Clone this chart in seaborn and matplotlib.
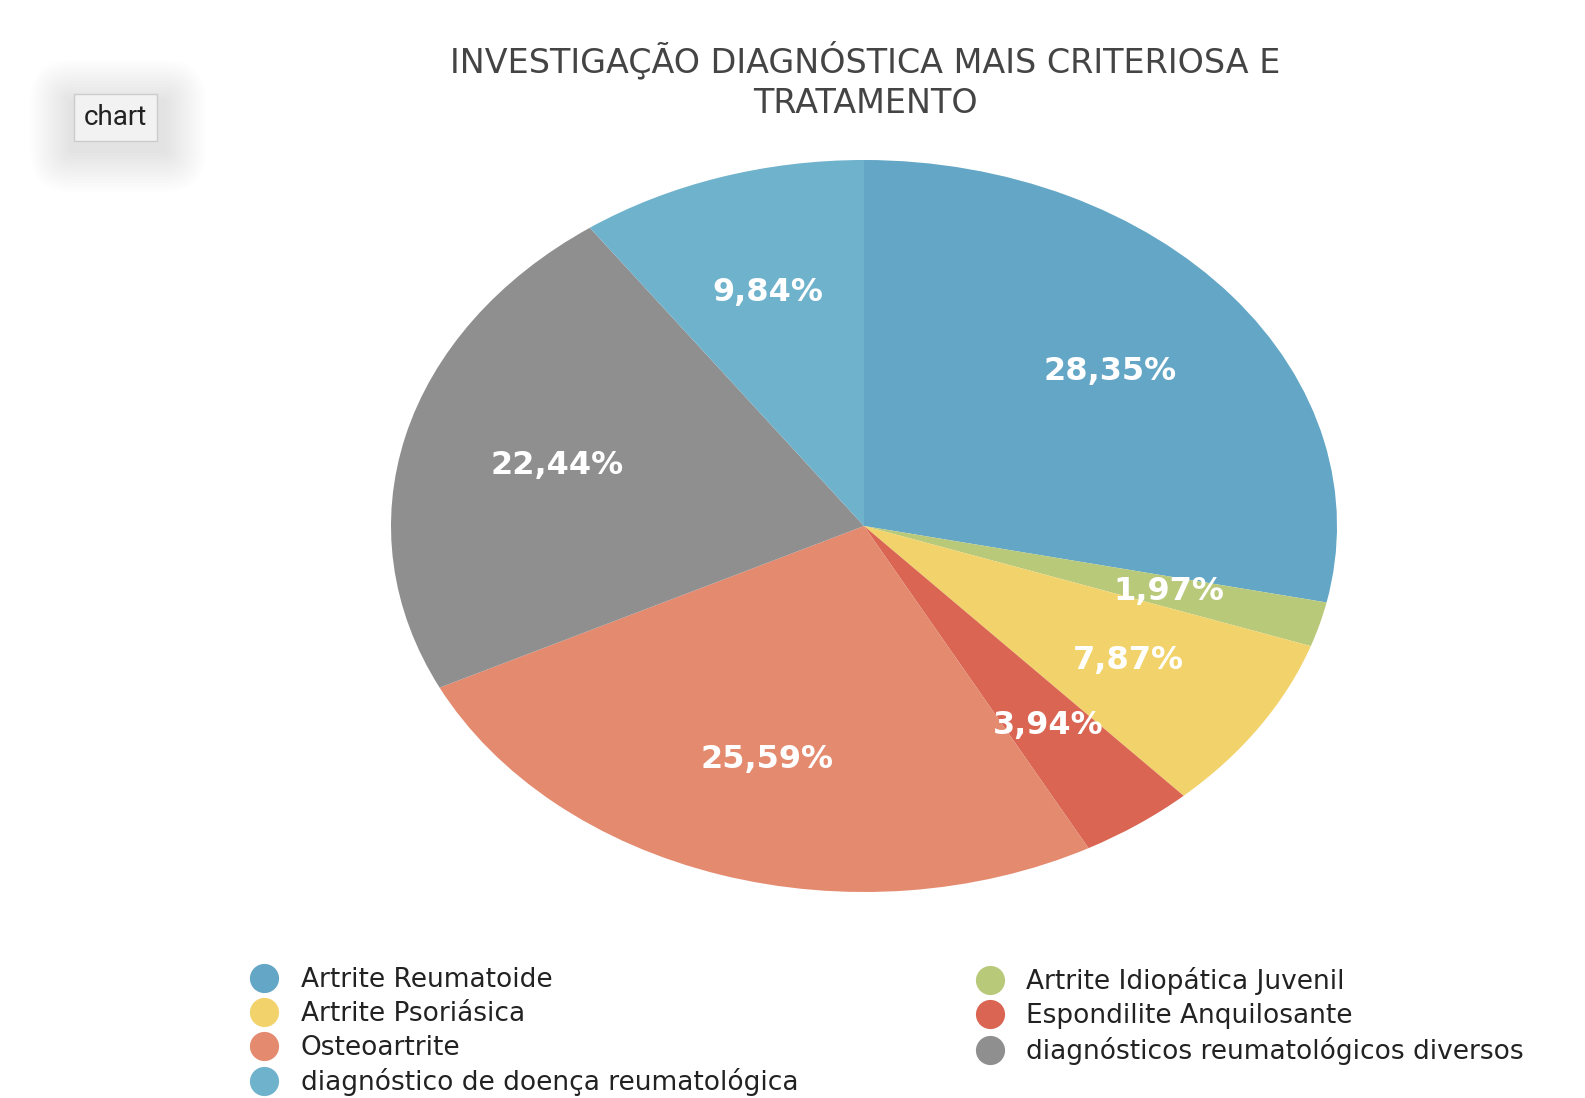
import seaborn as sns
import matplotlib.pyplot as plt
from matplotlib.lines import Line2D
from matplotlib.patches import FancyBboxPatch

# dados do gráfico
categorias = ["Artrite Reumatoide", "Artrite Idiopática Juvenil", "Artrite Psoriásica",
              "Espondilite Anquilosante", "Osteoartrite",
              "diagnósticos reumatológicos diversos", "diagnóstico de doença reumatológica"]
percentuais = [28.35, 1.97, 7.87, 3.94, 25.59, 22.44, 9.84]
cores = ["#63a6c6", "#b9c97a", "#f2d36b", "#d96552", "#e38a6f", "#8f8f8f", "#6fb2cc"]

sns.set_theme(style="white")
plt.rcParams['font.family'] = ['DejaVu Sans']
paleta = sns.color_palette(cores)

fig = plt.figure(figsize=(15.85, 10.98), dpi=100)
# eixo esticado para dar a forma de elipse
ax = fig.add_axes([391 / 1585, (1098 - 526 - 366) / 1098, 946 / 1585, 732 / 1098])
ax.pie(percentuais, colors=paleta, startangle=90, counterclock=False,
       autopct=lambda p: f"{p:.2f}%".replace(".", ","), pctdistance=0.67,
       textprops=dict(color="white", fontsize=23, fontweight="bold"),
       wedgeprops=dict(linewidth=0))
ax.set_aspect("auto")
ax.set_xlim(-1, 1)
ax.set_ylim(-1, 1)

fig.text(0.546, 0.927, "INVESTIGAÇÃO DIAGNÓSTICA MAIS CRITERIOSA E\nTRATAMENTO",
         ha="center", va="center", fontsize=24, color="#444444", linespacing=1.3)

# sombra difusa do botão (coordenadas em pixels)
for k in range(14):
    s = 3 + k * 3
    fig.patches.append(FancyBboxPatch(
        (72 - s, 1098 - 150 - s), 92 + 2 * s, 48 + 2 * s,
        boxstyle=f"round,pad=0,rounding_size={s}", transform=None,
        fc="#000000", ec="none", alpha=0.006, zorder=0))

# botão "chart"
fig.text(0.073, 0.893, "chart", ha="center", va="center", fontsize=20, color="#222222",
         family="Roboto", zorder=5,
         bbox=dict(boxstyle="square,pad=0.35", fc="#f2f2f2", ec="#cccccc", lw=1))

def handle(c):
    return Line2D([], [], marker="o", linestyle="", markersize=21,
                  markerfacecolor=c, markeredgewidth=0)

esq = [0, 2, 4, 6]
dir_ = [1, 3, 5]
leg_kw = dict(frameon=False, fontsize=19, labelspacing=0.29, handletextpad=0.8,
              handlelength=1.15, borderaxespad=0, labelcolor="#222222")
fig.legend([handle(paleta[i]) for i in esq], [categorias[i] for i in esq],
           loc="upper left", bbox_to_anchor=(0.1505, 0.1285), **leg_kw)
fig.legend([handle(paleta[i]) for i in dir_], [categorias[i] for i in dir_],
           loc="upper left", bbox_to_anchor=(0.6085, 0.1285), **leg_kw)

fig.savefig("out.png", dpi=100, facecolor="white")
